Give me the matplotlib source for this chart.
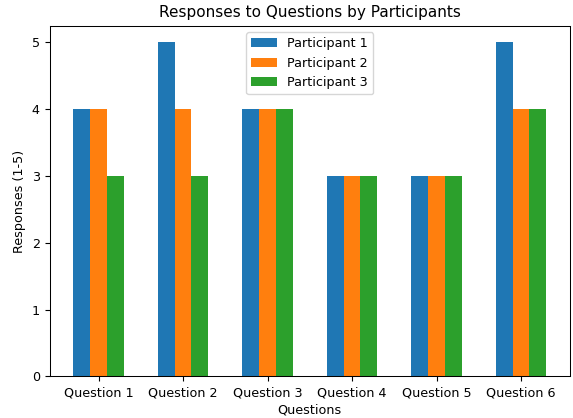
import matplotlib
matplotlib.use("Agg")
import matplotlib.pyplot as plt
import numpy as np

questions = ["Question 1", "Question 2", "Question 3", "Question 4", "Question 5", "Question 6"]
participant_1 = [4, 5, 4, 3, 3, 5]
participant_2 = [4, 4, 4, 3, 3, 4]
participant_3 = [3, 3, 4, 3, 3, 4]

plt.rcParams["font.size"] = 9.2
plt.rcParams["axes.linewidth"] = 0.75

x = np.arange(len(questions))
w = 0.2
fig = plt.figure(figsize=(5.73, 4.18), dpi=100)
ax = fig.add_axes([0.0864, 0.0998, 0.9948 - 0.0864, 0.9385 - 0.0998])
ax.bar(x - w, participant_1, w, label="Participant 1")
ax.bar(x, participant_2, w, label="Participant 2")
ax.bar(x + w, participant_3, w, label="Participant 3")
ax.set_xticks(x)
ax.set_xticklabels(questions)
ax.set_xlabel("Questions", labelpad=3)
ax.set_ylabel("Responses (1-5)")
ax.set_title("Responses to Questions by Participants", fontsize=11)
ax.legend(loc="upper center")
fig.savefig("out.png")
